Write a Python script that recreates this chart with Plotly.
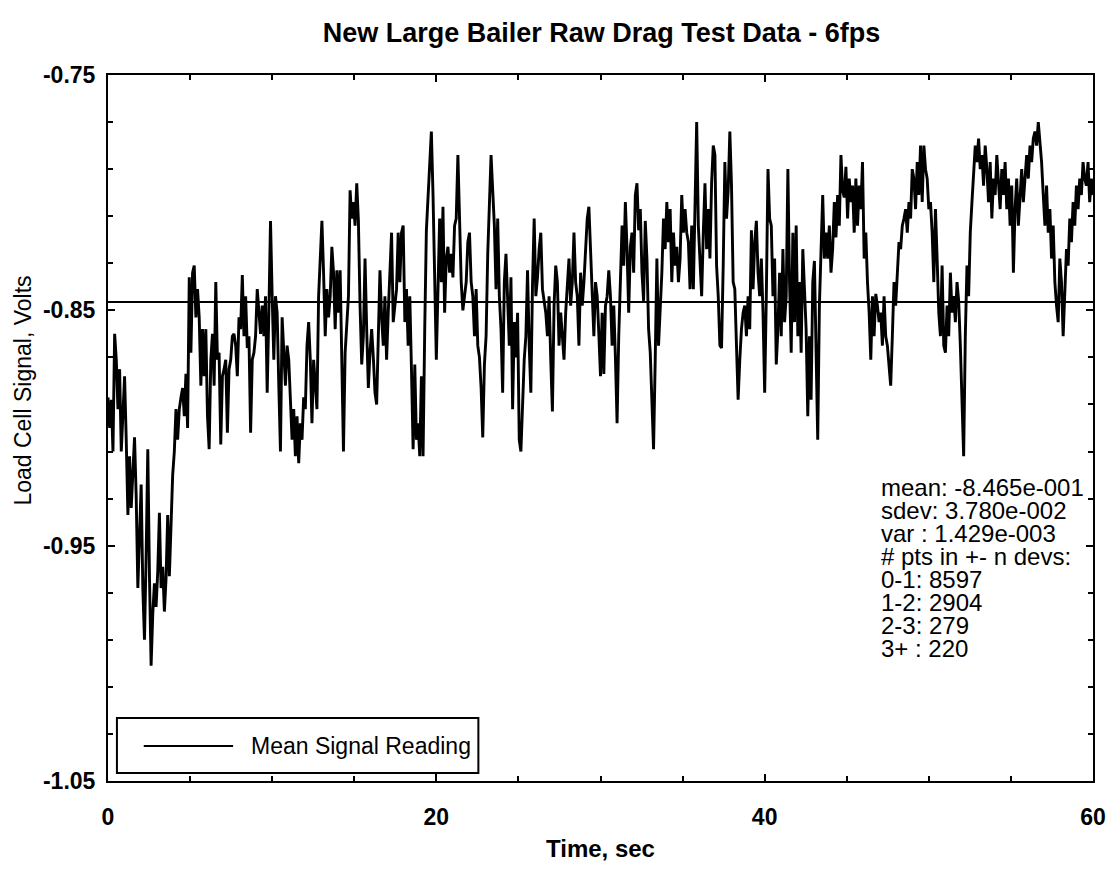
import numpy as np
import plotly.graph_objects as go

# Load cell signal, millivolts, sampled uniformly over the 60 s run
signal_mv = [
    # 0 - 10 s
    -887, -900, -888, -910, -860, -871, -892, -875, -910, -892, -878, -905, -937, -912, -934, -919,
    -904, -929, -968, -946, -924, -968, -990, -954, -909, -963, -1001, -979, -966, -976, -961, -936,
    -968, -959, -978, -964, -937, -963, -936, -920, -910, -892, -905, -892, -887, -883, -895, -877,
    -900, -836, -868, -834, -831, -853, -841, -853, -882, -858, -878, -858, -895, -909, -871, -860,
    -882, -838, -871, -868, -907, -878, -875, -871, -902, -875, -871, -861, -860, -865, -878, -853,
    -858, -835, -861, -844, -866, -861, -902, -871, -868, -861, -841, -851, -860, -848, -861, -844,
    -885, -851,
    # 10 - 20 s
    -812, -844, -871, -844, -851, -882, -910, -853, -865, -882, -865, -871, -888, -905, -892, -912,
    -895, -915, -898, -905, -887, -892, -865, -855, -871, -898, -871, -883, -892, -844, -824, -812,
    -834, -861, -841, -853, -844, -823, -834, -858, -833, -851, -833, -870, -910, -868, -853, -844,
    -799, -811, -804, -814, -796, -812, -848, -873, -861, -828, -858, -883, -868, -858, -870, -885,
    -890, -861, -833, -853, -865, -844, -871, -851, -834, -817, -855, -848, -841, -817, -838, -817,
    -814, -855, -841, -865, -844, -875, -909, -873, -905, -898, -912, -878, -912, -858, -816, -802,
    -790, -774, -801, -838, -871, -841,
    # 20 - 30 s
    -811, -838, -806, -851, -828, -823, -834, -826, -836, -814, -811, -784, -814, -838, -850, -844,
    -838, -821, -817, -838, -844, -861, -841, -865, -870, -883, -904, -873, -861, -826, -804, -784,
    -799, -814, -841, -811, -844, -858, -885, -838, -826, -848, -865, -836, -892, -855, -870, -851,
    -905, -910, -885, -871, -861, -833, -865, -885, -839, -811, -844, -836, -824, -817, -841, -846,
    -851, -861, -844, -871, -893, -848, -831, -838, -865, -851, -861, -871, -851, -838, -828, -848,
    -838, -817, -838, -844, -865, -834, -848, -838, -821, -811, -806, -824, -848, -861, -838, -844,
    -860, -878, -851, -877, -848, -844,
    # 30 - 40 s
    -833, -844, -865, -848, -870, -898, -861, -841, -814, -831, -804, -824, -851, -823, -817, -834,
    -801, -796, -816, -807, -834, -846, -812, -828, -858, -868, -892, -909, -871, -828, -865, -851,
    -834, -811, -824, -804, -821, -807, -838, -817, -831, -823, -838, -828, -801, -817, -807, -817,
    -821, -841, -814, -841, -811, -770, -814, -831, -844, -817, -796, -824, -807, -828, -796, -780,
    -784, -831, -844, -865, -866, -831, -787, -811, -799, -774, -797, -838, -841, -865, -888, -871,
    -858, -851, -848, -861, -844, -858, -816, -841, -821, -812, -834, -844, -828, -851, -885, -844,
    -790, -811, -814, -844, -828, -873,
    # 40 - 50 s
    -858, -834, -861, -824, -855, -844, -790, -838, -868, -817, -855, -814, -861, -838, -868, -824,
    -841, -858, -895, -861, -888, -838, -829, -868, -905, -848, -821, -801, -828, -817, -828, -814,
    -834, -824, -804, -819, -801, -814, -784, -799, -802, -789, -811, -794, -804, -797, -817, -794,
    -814, -797, -807, -787, -828, -817, -838, -851, -871, -844, -861, -843, -848, -855, -851, -865,
    -844, -861, -865, -875, -882, -861, -838, -848, -831, -821, -824, -814, -811, -807, -817, -804,
    -811, -790, -794, -807, -787, -801, -780, -804, -780, -790, -794, -807, -804, -817, -838, -807,
    -828, -851, -861, -831, -865, -868,
    # 50 - 60 s
    -848, -861, -834, -851, -844, -855, -838, -846, -865, -895, -912, -861, -831, -844, -817, -804,
    -794, -780, -787, -777, -790, -784, -797, -780, -790, -804, -787, -811, -794, -801, -784, -794,
    -807, -790, -801, -787, -807, -794, -814, -797, -834, -807, -794, -814, -801, -790, -804, -794,
    -784, -794, -780, -787, -777, -774, -780, -770, -777, -787, -801, -814, -797, -817, -807, -828,
    -814, -838, -848, -855, -828, -838, -861, -844, -824, -831, -811, -821, -804, -814, -797, -807,
    -794, -801, -787, -794, -797, -787, -804, -794, -801,
]

mean_signal = -0.8465
stats_lines = [
    "mean: -8.465e-001",
    "sdev: 3.780e-002",
    "var : 1.429e-003",
    "# pts in +- n devs:",
    "0-1: 8597",
    "1-2: 2904",
    "2-3: 279",
    "3+ : 220",
]
x_ticks = [0, 20, 40, 60]
y_ticks = [-1.05, -0.95, -0.85, -0.75]
y_tick_text = ["-1.05", "-0.95", "-0.85", "-0.75"]

time_s = np.linspace(0, 60, len(signal_mv))
volts = np.array(signal_mv) / 1000.0

W, H = 1118, 883
ML, MR, MT, MB = 108, 18, 75, 102
PW, PH = W - ML - MR, H - MT - MB


def px(x):
    return (x - ML) / PW


def py(y):
    return (H - MB - y) / PH


FONT = "Liberation Sans, Arial, sans-serif"

fig = go.Figure()
fig.add_trace(go.Scatter(
    x=time_s, y=volts, mode="lines",
    line=dict(color="black", width=2.9),
    showlegend=False, hoverinfo="skip",
))
fig.add_trace(go.Scatter(
    x=[0, 60], y=[mean_signal, mean_signal], mode="lines",
    line=dict(color="black", width=2),
    name="Mean Signal Reading", showlegend=False,
))

# legend box drawn by hand so the sample line can be long
shapes = [
    dict(type="rect", xref="paper", yref="paper",
         x0=px(117), x1=px(481), y0=py(773), y1=py(718),
         line=dict(color="black", width=2), fillcolor="white", layer="above"),
    dict(type="line", xref="paper", yref="paper",
         x0=px(144), x1=px(234), y0=py(746), y1=py(746),
         line=dict(color="black", width=2), layer="above"),
]

annotations = [
    dict(text="Mean Signal Reading", xref="paper", yref="paper",
         x=px(250), y=py(746), xanchor="left", yanchor="middle",
         showarrow=False, font=dict(family=FONT, size=23, color="black")),
    dict(text="Load Cell Signal, Volts", xref="paper", yref="paper",
         x=px(22), y=py(391), textangle=-90, xanchor="center", yanchor="middle",
         showarrow=False, font=dict(family=FONT, size=23, color="black")),
    dict(text="Time, sec", xref="paper", yref="paper",
         x=px(604), y=py(848), xanchor="center", yanchor="middle",
         showarrow=False, font=dict(family=FONT, size=24, color="black", weight="bold")),
]
for i, line in enumerate(stats_lines):
    annotations.append(dict(
        text=line, xref="paper", yref="paper",
        x=px(884), y=py(487 + 23.1 * i), xanchor="left", yanchor="middle",
        showarrow=False, font=dict(family=FONT, size=24, color="black"),
    ))

fig.update_layout(
    width=W, height=H,
    margin=dict(l=ML, r=MR, t=MT, b=MB),
    paper_bgcolor="white", plot_bgcolor="white",
    title=dict(text="New Large Bailer Raw Drag Test Data - 6fps",
               x=px(605), xref="paper", xanchor="center",
               y=1 - 33 / H, yref="container", yanchor="middle",
               font=dict(family=FONT, size=27, color="black", weight="bold")),
    shapes=shapes, annotations=annotations,
    xaxis=dict(
        range=[0, 60], tickvals=x_ticks, ticks="inside", ticklen=7, tickwidth=2,
        tickcolor="black", showline=True, linecolor="black", linewidth=2, mirror="ticks",
        showgrid=False, zeroline=False, ticklabelstandoff=14,
        tickfont=dict(family=FONT, size=23, color="black", weight="bold"),
        minor=dict(tick0=0, dtick=5, ticks="inside", ticklen=5, tickwidth=1.5,
                   tickcolor="black", showgrid=False),
    ),
    yaxis=dict(
        range=[-1.05, -0.75], tickvals=y_ticks, ticktext=y_tick_text, ticks="inside",
        ticklen=7, tickwidth=2, tickcolor="black", showline=True, linecolor="black",
        linewidth=2, mirror="ticks", showgrid=False, zeroline=False, ticklabelstandoff=6,
        tickfont=dict(family=FONT, size=23, color="black", weight="bold"),
        minor=dict(tick0=-0.75, dtick=0.02, ticks="inside", ticklen=5, tickwidth=1.5,
                   tickcolor="black", showgrid=False),
    ),
)

fig.write_html("out.html", config={"displayModeBar": False})
